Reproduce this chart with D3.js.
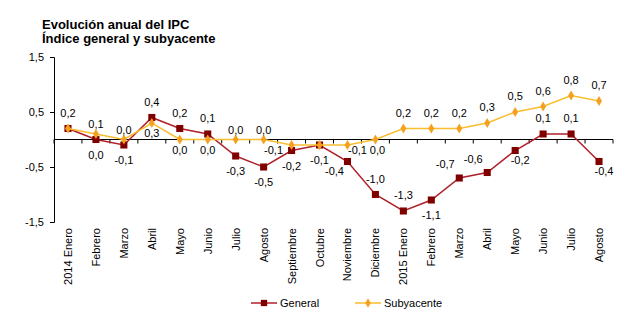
<!DOCTYPE html>
<html><head><meta charset="utf-8">
<script src="https://cdn.jsdelivr.net/npm/d3@7"></script>
<style>body{margin:0;background:#fff}svg{display:block}text{font-family:"Liberation Sans",Arial,sans-serif}</style>
</head><body>
<svg id="c" width="638" height="336"></svg>
<script>
const categories = ["2014 Enero","Febrero","Marzo","Abril","Mayo","Junio","Julio","Agosto","Septiembre","Octubre","Noviembre","Diciembre","2015 Enero","Febrero","Marzo","Abril","Mayo","Junio","Julio","Agosto"];
const general = [0.2,0.0,-0.1,0.4,0.2,0.1,-0.3,-0.5,-0.2,-0.1,-0.4,-1.0,-1.3,-1.1,-0.7,-0.6,-0.2,0.1,0.1,-0.4];
const subyacente = [0.2,0.1,0.0,0.3,0.0,0.0,0.0,0.0,-0.1,-0.1,-0.1,0.0,0.2,0.2,0.2,0.3,0.5,0.6,0.8,0.7];
const yTicks = [1.5,0.5,-0.5,-1.5];
const seriesNames = ["General","Subyacente"];
// label placement codes
const genPlace = ["T","B","B","T","T","T","B","B","B","B","BL","T","T","B","TL","TL","BR","T","T","BR"];
const subPlace = ["N","t","t","b","b","b","t","t","L","N","R","br","T","T","T","T","T","T","T","T"];

const svg = d3.select("#c");
const x = d3.scaleBand().domain(d3.range(categories.length)).range([54,613]);
const y = d3.scaleLinear().domain([-1.5,1.5]).range([222,57]);
const cx = i => x(i) + x.bandwidth()/2;
const fmt = v => d3.format(".1f")(v).replace(".", ",").replace("−","-");

// title
svg.append("text").attr("x",42).attr("y",29).attr("font-size",13).attr("font-weight","bold").text("Evolución anual del IPC");
svg.append("text").attr("x",42).attr("y",43).attr("font-size",13).attr("font-weight","bold").text("Índice general y subyacente");

// y axis
const yAx = svg.append("g").attr("transform","translate(54,0)")
  .call(d3.axisLeft(y).tickValues(yTicks).tickSize(4).tickFormat(fmt));
yAx.select(".domain").attr("stroke","#000");
yAx.selectAll("text").attr("font-size",11).attr("fill","#000").attr("x",-10);

// x axis at zero with ticks at band boundaries
const xg = svg.append("g");
xg.append("line").attr("x1",54).attr("x2",613).attr("y1",y(0)).attr("y2",y(0)).attr("stroke","#000");
xg.selectAll("line.t").data(d3.range(categories.length+1)).join("line").attr("class","t")
  .attr("x1",i=>54+i*x.bandwidth()).attr("x2",i=>54+i*x.bandwidth())
  .attr("y1",y(0)).attr("y2",y(0)+4).attr("stroke","#000");
xg.selectAll("text").data(categories).join("text")
  .attr("transform",(d,i)=>`translate(${cx(i)+4},228) rotate(-90)`)
  .attr("text-anchor","end").attr("font-size",11).text(d=>d);

const off = {T:[0,-12],B:[0,19],t:[0,-6],b:[0,14],br:[2,14],L:[-18,9],R:[10,9],TL:[-14,-10],BL:[-13,13],BR:[5,13]};

function drawSeries(vals, place, lineColor, markerColor, shape, size){
  const line = d3.line().x((d,i)=>cx(i)).y(d=>y(d));
  svg.append("path").datum(vals).attr("d",line).attr("fill","none").attr("stroke",lineColor).attr("stroke-width",1.5);
  svg.append("g").selectAll("path").data(vals).join("path")
    .attr("transform",(d,i)=>`translate(${cx(i)},${y(d)})`)
    .attr("d",d3.symbol().type(shape).size(size)).attr("fill",markerColor);
  svg.append("g").selectAll("text").data(vals.map((v,i)=>({v,i,p:place[i]})).filter(d=>d.p!=="N")).join("text")
    .attr("x",d=>cx(d.i)+off[d.p][0]).attr("y",d=>y(d.v)+off[d.p][1])
    .attr("text-anchor","middle").attr("font-size",11).attr("fill","#000").text(d=>fmt(d.v));
}
drawSeries(general, genPlace, "#b0202a", "#800000", d3.symbolSquare, 50);
drawSeries(subyacente, subPlace, "#f9bd2e", "#f5a01e", d3.symbolDiamond, 30);

// legend
const leg = [{n:seriesNames[0],lc:"#b0202a",mc:"#800000",s:d3.symbolSquare,sz:40,x:251},
             {n:seriesNames[1],lc:"#f9bd2e",mc:"#f5a01e",s:d3.symbolDiamond,sz:26,x:355}];
const lg = svg.append("g").selectAll("g").data(leg).join("g").attr("transform",d=>`translate(${d.x},303)`);
lg.append("line").attr("x1",0).attr("x2",26).attr("stroke",d=>d.lc).attr("stroke-width",1.5);
lg.append("path").attr("transform","translate(13,0)").attr("d",d=>d3.symbol().type(d.s).size(d.sz)()).attr("fill",d=>d.mc);
lg.append("text").attr("x",29).attr("y",4).attr("font-size",11).text(d=>d.n);
</script>
</body></html>
